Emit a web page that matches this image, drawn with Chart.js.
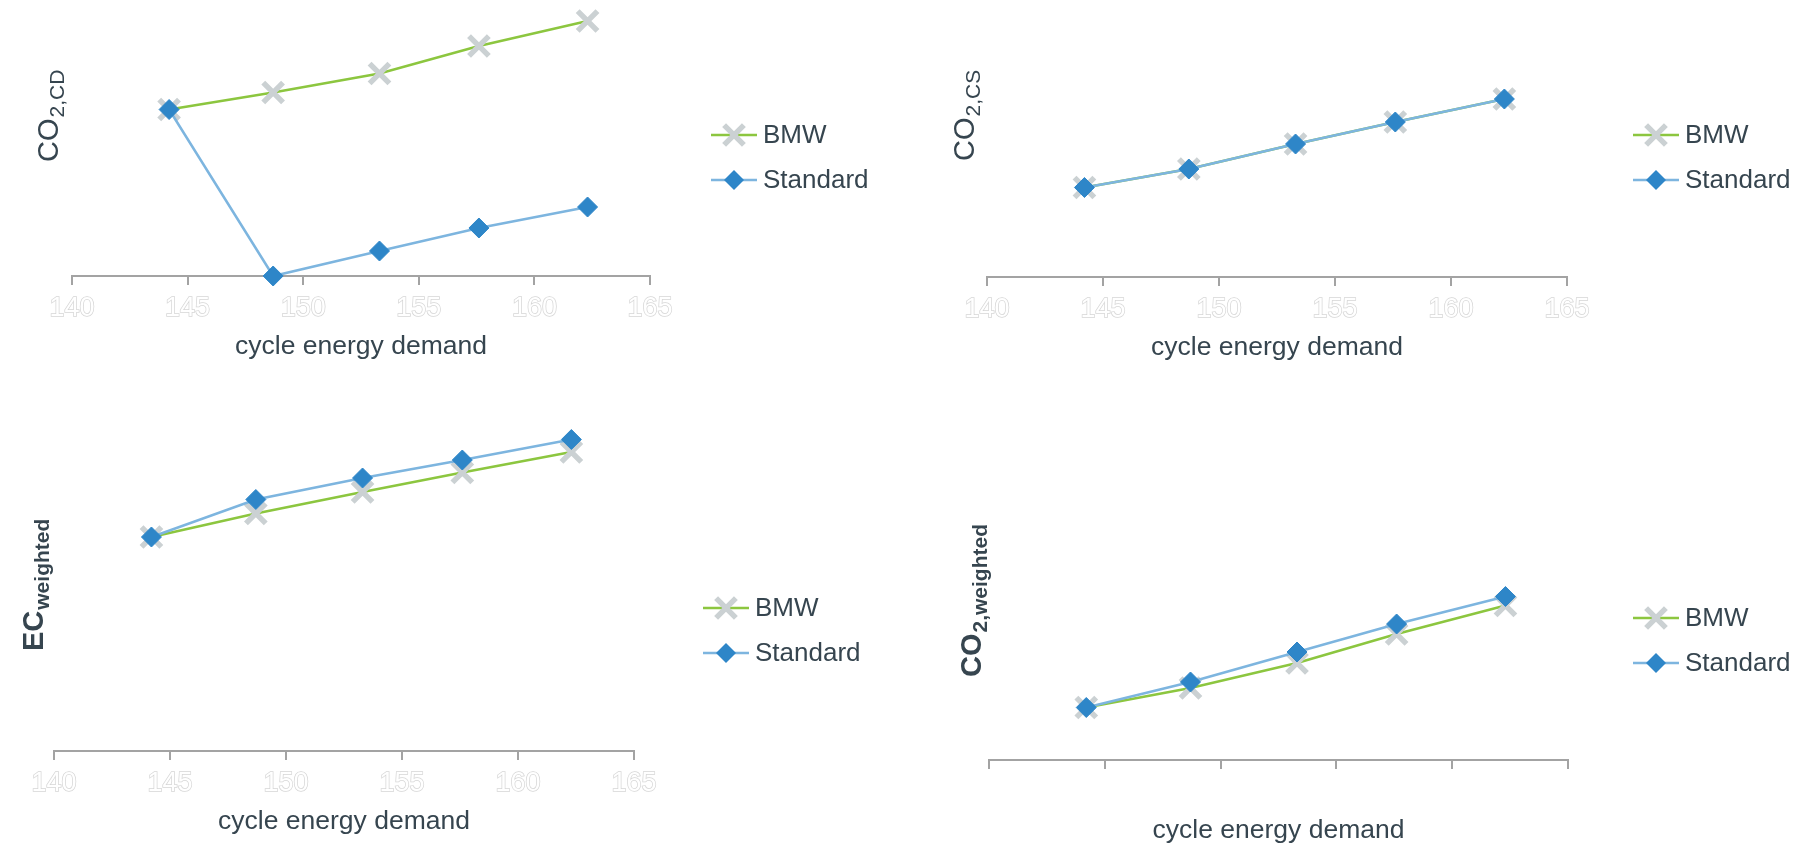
<!DOCTYPE html>
<html lang="en">
<head>
<meta charset="UTF-8">
<title>CO2 / EC vs cycle energy demand</title>
<script src="https://cdn.jsdelivr.net/npm/chart.js@4"></script>
<style>
  * { box-sizing: border-box; margin: 0; padding: 0; }
  body { background: #fff; width: 1806px; height: 844px; overflow: hidden; position: relative; }
  .panel { position: absolute; }
  #p1 { left: 0;     top: 0;     width: 903px; height: 420px; }
  #p2 { left: 903px; top: 0;     width: 903px; height: 420px; }
  #p3 { left: 0;     top: 420px; width: 903px; height: 424px; }
  #p4 { left: 903px; top: 420px; width: 903px; height: 424px; }
</style>
</head>
<body>
  <div class="panel" id="p1"><canvas id="c1"></canvas></div>
  <div class="panel" id="p2"><canvas id="c2"></canvas></div>
  <div class="panel" id="p3"><canvas id="c3"></canvas></div>
  <div class="panel" id="p4"><canvas id="c4"></canvas></div>
<script>
// test points: cycle energy demand
const energyDemand = [144.2, 148.7, 153.3, 157.6, 162.3];
const xTicks = [140, 145, 150, 155, 160, 165];
const seriesNames = ['BMW', 'Standard'];

// CO2 charge depleting
const co2CdBmw = [166.5, 183.5, 202.5, 230, 255];
const co2CdStd = [166.5, 0, 25, 48, 69];
// CO2 charge sustaining
const co2CsBmw = [89.5, 108, 133, 155, 178];
const co2CsStd = [89.5, 108, 133, 155, 178];
// weighted electric consumption
const ecWBmw = [214, 237.5, 259, 278.5, 299];
const ecWStd = [214, 251.5, 273, 291, 311.5];
// weighted CO2
const co2WBmw = [52.5, 72, 97, 126, 154.5];
const co2WStd = [52.5, 78, 108, 136, 163.5];

const FAMILY = "'Liberation Sans', Arial, sans-serif";
const TEXT = '#36454f';
const AXIS = '#a3a3a3';
const GREEN = '#8cc63f';
const BLUE_LINE = '#7db5df';
const BLUE_MARK = '#2e86c8';
const GREY_MARK = '#cbd1d3';
const AXIS_BOX = 84;

// page positions of every panel (canvas origin, plot edges, title, legend)
const panels = [
  { id: 'c1', origin: [0, 0], size: [903, 420], left: 72, right: 650, axis: 276, yMax: 270,
    bmw: co2CdBmw, std: co2CdStd, title: ['CO', '2,CD'], bold: false,
    titleAt: [58, 162], legendAt: [711, 135], tickLabels: true },
  { id: 'c2', origin: [903, 0], size: [903, 420], left: 987, right: 1567, axis: 277, yMax: 271,
    bmw: co2CsBmw, std: co2CsStd, title: ['CO', '2,CS'], bold: false,
    titleAt: [974, 161], legendAt: [1633, 135], tickLabels: true },
  { id: 'c3', origin: [0, 420], size: [903, 424], left: 54, right: 634, axis: 751, yMax: 320,
    bmw: ecWBmw, std: ecWStd, title: ['EC', 'weighted'], bold: true,
    titleAt: [43, 651], legendAt: [703, 608], tickLabels: true },
  { id: 'c4', origin: [903, 420], size: [903, 424], left: 989, right: 1568, axis: 760, yMax: 329,
    bmw: co2WBmw, std: co2WStd, title: ['CO', '2,weighted'], bold: true,
    titleAt: [981, 677], legendAt: [1633, 618], tickLabels: false }
];

function drawMarker(ctx, style, x, y) {
  ctx.save();
  if (style === 'crossRot') {
    ctx.strokeStyle = GREY_MARK;
    ctx.lineWidth = 5.5;
    const r = 14 * Math.SQRT1_2;
    ctx.beginPath();
    ctx.moveTo(x - r, y - r); ctx.lineTo(x + r, y + r);
    ctx.moveTo(x - r, y + r); ctx.lineTo(x + r, y - r);
    ctx.stroke();
  } else {
    ctx.fillStyle = BLUE_MARK;
    ctx.beginPath();
    ctx.moveTo(x, y - 10); ctx.lineTo(x + 10, y); ctx.lineTo(x, y + 10); ctx.lineTo(x - 10, y);
    ctx.closePath();
    ctx.fill();
  }
  ctx.restore();
}

// rotated y title with subscript + side legend
const panelDecor = {
  id: 'panelDecor',
  afterDraw(chart, args, o) {
    const ctx = chart.ctx;
    const [ox, oy] = o.origin;
    const weight = o.bold ? 'bold ' : '';

    ctx.save();
    ctx.translate(o.titleAt[0] - ox, o.titleAt[1] - oy);
    ctx.rotate(-Math.PI / 2);
    ctx.fillStyle = TEXT;
    ctx.textBaseline = 'alphabetic';
    ctx.font = weight + '29px ' + FAMILY;
    ctx.fillText(o.title[0], 0, 0);
    const w = ctx.measureText(o.title[0]).width;
    ctx.font = weight + '21px ' + FAMILY;
    ctx.fillText(o.title[1], w + 1, 6);
    ctx.restore();

    const [lx, ly] = [o.legendAt[0] - ox, o.legendAt[1] - oy];
    const styles = [
      { line: GREEN, marker: 'crossRot' },
      { line: BLUE_LINE, marker: 'rectRot' }
    ];
    ctx.save();
    seriesNames.forEach((name, i) => {
      const y = ly + i * 45;
      ctx.strokeStyle = styles[i].line;
      ctx.lineWidth = 2.5;
      ctx.beginPath();
      ctx.moveTo(lx, y); ctx.lineTo(lx + 46, y);
      ctx.stroke();
      drawMarker(ctx, styles[i].marker, lx + 23, y);
      ctx.fillStyle = TEXT;
      ctx.font = '26px ' + FAMILY;
      ctx.textBaseline = 'middle';
      ctx.fillText(name, lx + 52, y + 1);
    });
    ctx.restore();
  }
};

function points(ys) {
  return energyDemand.map((x, i) => ({ x, y: ys[i] }));
}

panels.forEach(p => {
  const [ox, oy] = p.origin;
  const top = p.axis - p.yMax;
  new Chart(document.getElementById(p.id), {
    type: 'line',
    data: {
      datasets: [
        { label: seriesNames[0], data: points(p.bmw), order: 1,
          borderColor: GREEN, borderWidth: 2.5, tension: 0, clip: false,
          pointStyle: 'crossRot', pointRadius: 14, pointBorderWidth: 5.5,
          pointBorderColor: GREY_MARK, pointBackgroundColor: GREY_MARK },
        { label: seriesNames[1], data: points(p.std), order: 0,
          borderColor: BLUE_LINE, borderWidth: 2.5, tension: 0, clip: false,
          pointStyle: 'rectRot', pointRadius: 10, pointBorderWidth: 1,
          pointBorderColor: BLUE_MARK, pointBackgroundColor: BLUE_MARK }
      ]
    },
    options: {
      responsive: true,
      maintainAspectRatio: false,
      animation: false,
      events: [],
      layout: {
        autoPadding: false,
        padding: {
          left: p.left - ox,
          right: p.size[0] - (p.right - ox),
          top: top - oy,
          bottom: p.size[1] - (p.axis - oy + AXIS_BOX)
        }
      },
      scales: {
        x: {
          type: 'linear',
          min: xTicks[0],
          max: xTicks[xTicks.length - 1],
          ticks: {
            stepSize: xTicks[1] - xTicks[0],
            display: p.tickLabels,
            color: '#ffffff',
            textStrokeColor: '#d6d6d6',
            textStrokeWidth: 1.5,
            padding: 7,
            font: { size: 27, family: FAMILY }
          },
          grid: { drawOnChartArea: false, drawTicks: true, tickLength: 9, color: AXIS, lineWidth: 2 },
          border: { display: true, color: AXIS, width: 2 },
          title: {
            display: true,
            text: 'cycle energy demand',
            color: TEXT,
            font: { size: 26.5, family: FAMILY, lineHeight: 1 },
            padding: { top: 0, bottom: 0 }
          },
          afterFit(scale) { scale.height = AXIS_BOX; }
        },
        y: { display: false, min: 0, max: p.yMax }
      },
      plugins: {
        legend: { display: false },
        tooltip: { enabled: false },
        panelDecor: { origin: p.origin, title: p.title, bold: p.bold, titleAt: p.titleAt, legendAt: p.legendAt }
      }
    },
    plugins: [panelDecor]
  });
});
</script>
</body>
</html>
